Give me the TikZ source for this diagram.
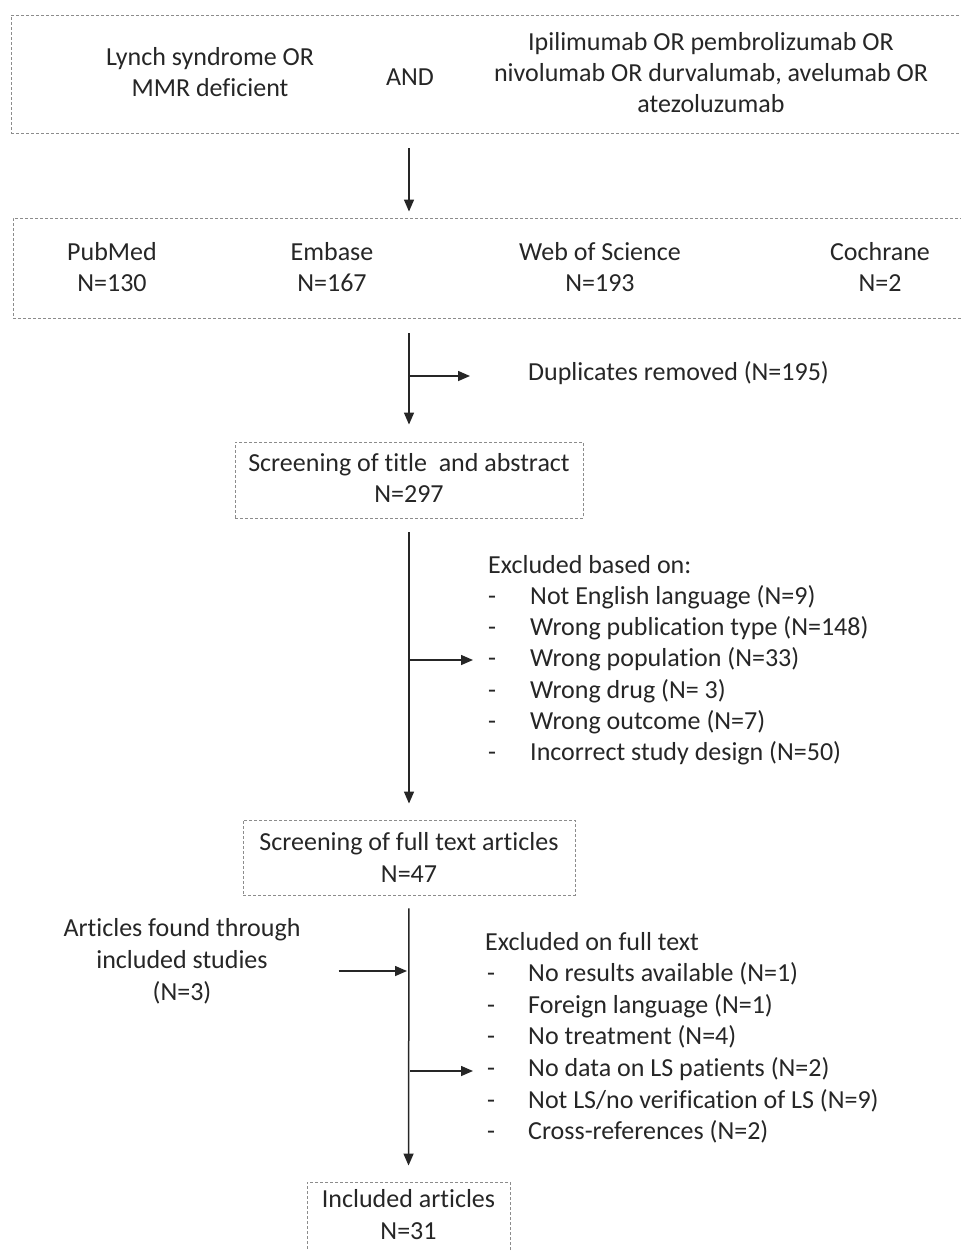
\documentclass[tikz,border=0pt]{standalone}
\usepackage{fontspec}
\setmainfont{Carlito}[Ligatures=NoCommon]
\usetikzlibrary{arrows.meta}
\begin{document}
\begin{tikzpicture}[x=1pt,y=-1pt,
  box/.style={draw=black!45, dash pattern=on 3pt off 2pt, line width=0.9pt, inner sep=0pt, fill=none},
  txt/.style={font=\fontsize{26}{31}\selectfont, inner sep=0pt, anchor=base, text=black!85},
  lt/.style={txt, anchor=base west},
  arr/.style={draw=black!85, line width=1.5pt, -{Triangle[length=12pt,width=10pt]}},
  ln/.style={draw=black!85, line width=1.5pt}]
\useasboundingbox (0,0) rectangle (961,1251);

% ---- boxes ----
\node[box, minimum width=960pt, minimum height=118pt] (b1) at (491,74) {};
\node[box, minimum width=960pt, minimum height=100pt] (b2) at (493,268) {};
\node[box, minimum width=348pt, minimum height=76pt] (b3) at (409,480) {};
\node[box, minimum width=332pt, minimum height=75pt] (b4) at (409,857.5) {};
\node[box, minimum width=203pt, minimum height=90pt] (b5) at (408.5,1227) {};

% ---- box 1 text ----
\node[txt] (l1) at (210,65) {Lynch syndrome OR};
\node[txt] (l2) at (210,96) {MMR deficient};
\node[txt] (and) at (410,85) {AND};
\node[txt] (r1) at (711,50) {Ipilimumab OR pembrolizumab OR};
\node[txt] (r2) at (711,81) {nivolumab OR durvalumab, avelumab OR};
\node[txt] (r3) at (711,112) {atezoluzumab};

% ---- box 2 text ----
\node[txt] (pm1) at (112,260) {PubMed};
\node[txt] (pm2) at (112,291) {N=130};
\node[txt] (em1) at (332,260) {Embase};
\node[txt] (em2) at (332,291) {N=167};
\node[txt] (ws1) at (600,260) {Web of Science};
\node[txt] (ws2) at (600,291) {N=193};
\node[txt] (co1) at (880,260) {Cochrane};
\node[txt] (co2) at (880,291) {N=2};

% ---- box 3..5 text ----
\node[txt] (s1) at (409,471) {Screening of title\ \ and abstract};
\node[txt] (s2) at (409,502) {N=297};
\node[txt] (f1) at (409,850) {Screening of full text articles};
\node[txt] (f2) at (409,882) {N=47};
\node[txt] (i1) at (408.5,1207) {Included articles};
\node[txt] (i2) at (408.5,1239) {N=31};

% ---- side texts ----
\node[lt] (dup) at (528,380) {Duplicates removed (N=195)};

\node[lt] (ex) at (488,573) {Excluded based on:};
\foreach \t [count=\i] in {Not English language (N=9),Wrong publication type (N=148),Wrong population (N=33),Wrong drug (N= 3),Wrong outcome (N=7),Incorrect study design (N=50)}{
  \node[lt] (exd\i) at (488,573+31.3*\i) {-};
  \node[lt] (ext\i) at (530,573+31.3*\i) {\t};
}

\node[txt] (a1) at (182,936) {Articles found through};
\node[txt] (a2) at (182,968) {included studies};
\node[txt] (a3) at (182,1000) {(N=3)};

\node[lt] (ft) at (485,950) {Excluded on full text};
\foreach \t [count=\i] in {No results available (N=1),Foreign language (N=1),No treatment (N=4),No data on LS patients (N=2),Not LS/no verification of LS (N=9),Cross-references (N=2)}{
  \node[lt] (ftd\i) at (487,950+31.6*\i) {-};
  \node[lt] (ftt\i) at (528,950+31.6*\i) {\t};
}

% ---- connectors ----
\coordinate (j1) at (410,376);
\coordinate (j2) at (410,660);
\coordinate (j3) at (410,1071);
\coordinate (j4) at (407,971);

\draw[arr, shorten <=15pt, shorten >=6pt] (b1.south -| b3.north) -- (b2.north -| b3.north);
\draw[arr, shorten <=15pt, shorten >=17pt] (b2.south -| b3.north) -- (b3.north);
\draw[arr, shorten >=58pt] (j1) -- (j1 -| dup.west);
\draw[arr, shorten <=14pt, shorten >=16pt] (b3.south) -- (b4.north);
\draw[arr, shorten >=15pt] (j2) -- (j2 -| exd3.west);
\draw[arr, shorten <=13pt, shorten >=16pt] (b4.south) -- (b5.north);
\draw[arr, shorten <=38pt] (j4 -| a1.east) -- (j4);
\draw[arr, shorten >=14pt] (j3) -- (j3 -| ftd4.west);
\end{tikzpicture}
\end{document}
